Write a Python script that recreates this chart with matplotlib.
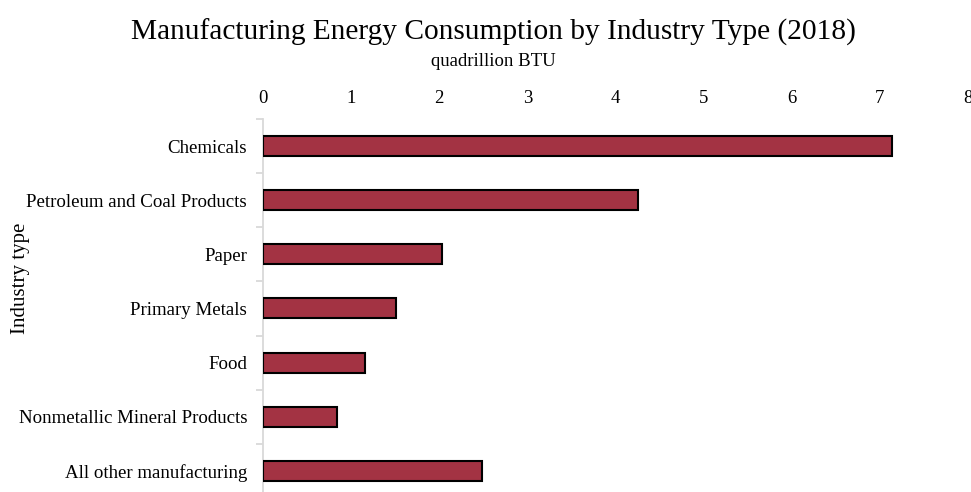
import matplotlib
matplotlib.use("Agg")

import matplotlib.pyplot as plt
import numpy as np

industries = [
    "Chemicals",
    "Petroleum and Coal Products",
    "Paper",
    "Primary Metals",
    "Food",
    "Nonmetallic Mineral Products",
    "All other manufacturing",
]
consumption = [7.14, 4.25, 2.03, 1.51, 1.16, 0.84, 2.49]
x_ticks = [0, 1, 2, 3, 4, 5, 6, 7, 8]

plt.rcParams["font.family"] = ["Liberation Serif", "DejaVu Serif"]

dpi = 100
fig = plt.figure(figsize=(971 / dpi, 492 / dpi), dpi=dpi)
ax = fig.add_axes([0.2709, -0.012, 0.726, 0.770])

y_pos = np.arange(len(industries))
ax.barh(y_pos, consumption, height=0.37, color="#A33343",
        edgecolor="black", linewidth=1.5, zorder=3)

ax.set_ylim(len(industries) - 0.5, -0.5)
ax.set_xlim(0, 8)

# value axis along the top, no tick marks
ax.xaxis.tick_top()
ax.set_xticks(x_ticks)
ax.tick_params(axis="x", length=0, labelsize=13.5, pad=8.5)

# category labels, with Excel-style separators between categories
ax.set_yticks(y_pos)
ax.set_yticklabels(industries, fontsize=13.6)
ax.set_yticks(np.arange(-0.5, len(industries), 1.0), minor=True)
ax.tick_params(axis="y", which="major", length=0, pad=11.5)
ax.tick_params(axis="y", which="minor", length=5, color="#d9d9d9", width=1.3)

for side in ["top", "right", "bottom"]:
    ax.spines[side].set_visible(False)
ax.spines["left"].set_color("#d9d9d9")
ax.spines["left"].set_linewidth(1.3)

fig.text(0.508, 0.935, "Manufacturing Energy Consumption by Industry Type (2018)",
         ha="center", va="center", fontsize=21.2)
fig.text(0.508, 0.876, "quadrillion BTU", ha="center", va="center", fontsize=13.5)
fig.text(0.021, 0.435, "Industry type", rotation=90, ha="center", va="center",
         fontsize=15)

fig.savefig("out.png", dpi=dpi)
plt.close(fig)
